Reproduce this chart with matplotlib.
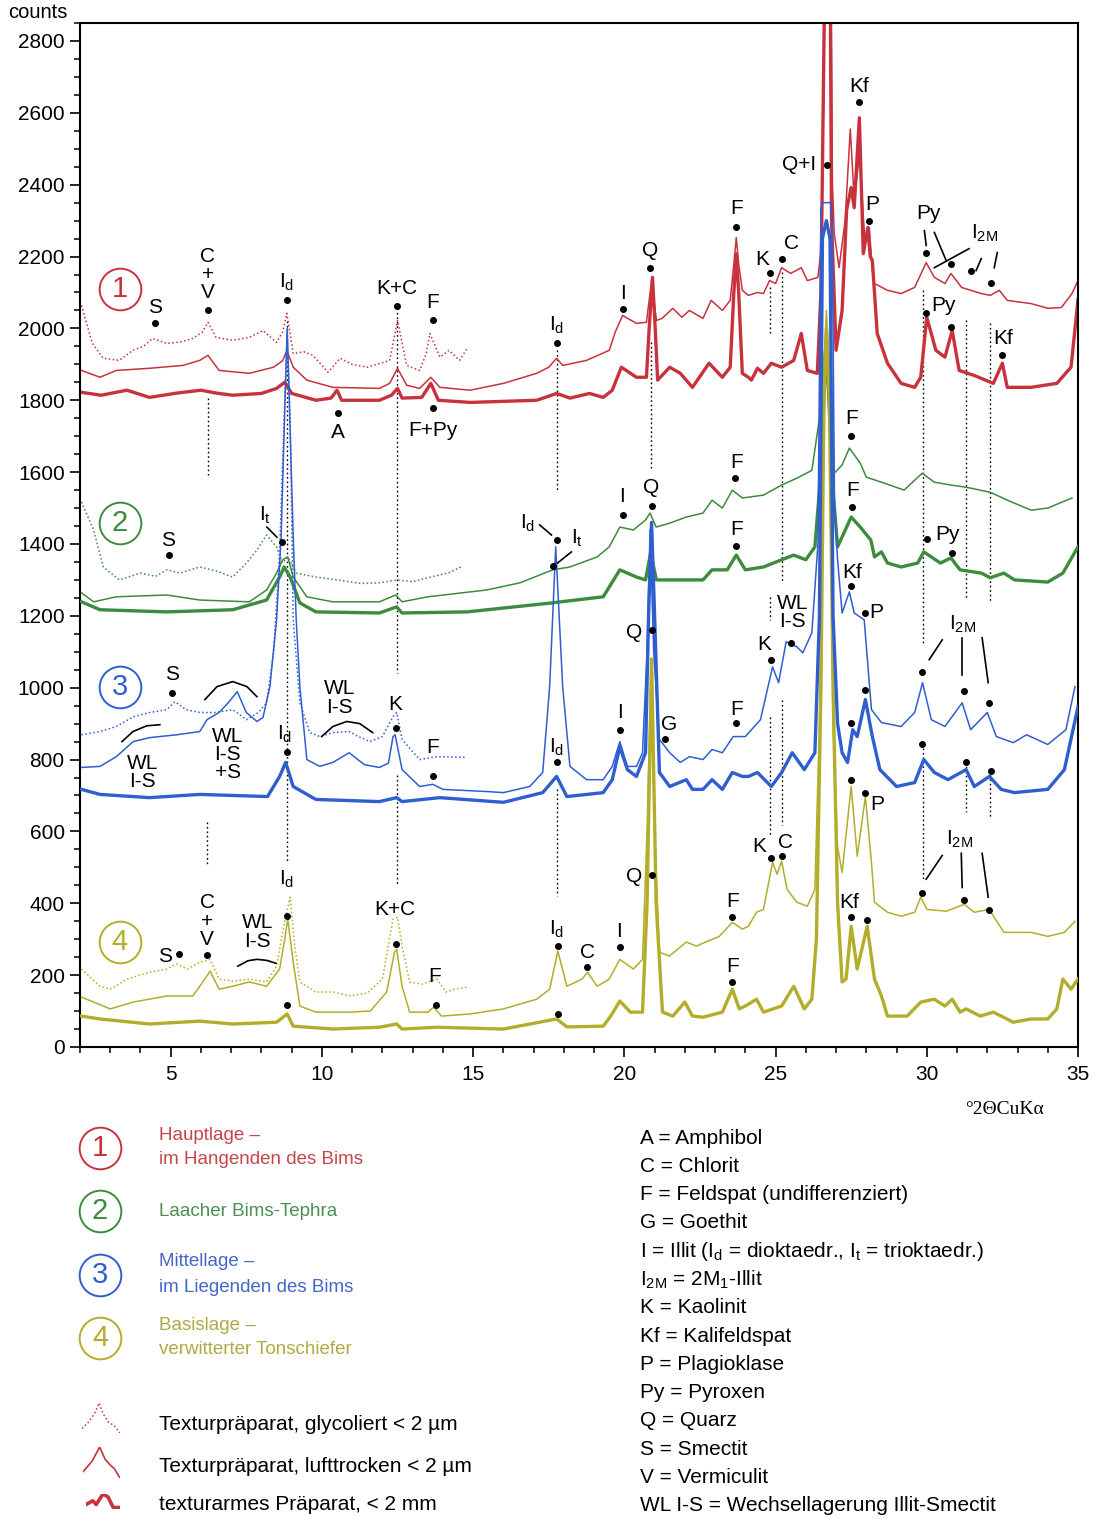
import matplotlib
matplotlib.use('Agg')
import matplotlib.pyplot as plt
from matplotlib.lines import Line2D
from matplotlib.ticker import MultipleLocator

plt.rcParams['font.family'] = ['Liberation Sans Narrow', 'Liberation Sans', 'DejaVu Sans']
plt.rcParams['mathtext.default'] = 'regular'

# ---------------- data (2theta, counts) ----------------
s1_gly = [(2.05,2064),(2.4,1960),(2.76,1917),(3.3,1911),(3.75,1939),(4.1,1950),(4.4,1972),(4.87,1958),(5.3,1962),(5.73,1972),(6.05,1990),(6.23,2017),(6.5,1975),(7.05,1967),(7.6,1975),(8.05,1994),(8.5,1961),(8.7,1990),(8.84,2042),(9.05,1930),(9.4,1935),(9.7,1925),(10.2,1878),(10.6,1917),(11.0,1900),(11.5,1892),(12.24,1911),(12.4,1980),(12.5,2022),(12.8,1897),(13.23,1883),(13.45,1930),(13.57,1986),(13.9,1920),(14.2,1939),(14.55,1911),(14.8,1944)]
s1_air = [(2.05,1883),(2.66,1864),(3.2,1883),(4.3,1889),(5.4,1897),(5.96,1911),(6.23,1925),(6.6,1883),(7.6,1875),(8.4,1892),(8.7,1910),(8.84,1939),(9.05,1892),(9.5,1856),(10.36,1836),(11.9,1833),(12.24,1847),(12.5,1889),(12.8,1842),(13.23,1833),(13.6,1864),(13.9,1836),(14.9,1828),(16.0,1847),(17.1,1875),(17.5,1892),(17.76,1917),(17.96,1897),(18.75,1911),(19.5,1939),(19.7,1990),(19.94,2036),(20.4,2014),(20.73,2017),(20.9,2133),(21.06,2022),(21.25,2028),(21.6,2056),(21.9,2031),(22.15,2050),(22.6,2028),(22.87,2078),(23.24,2050),(23.5,2078),(23.62,2180),(23.7,2253),(23.78,2180),(23.9,2106),(24.1,2092),(24.4,2100),(24.6,2097),(24.8,2133),(25.0,2125),(25.2,2169),(25.5,2153),(25.85,2169),(26.05,2133),(26.4,2142),(26.5,2217),(26.6,2700),(26.68,3400),(26.8,3400),(26.88,2400),(26.94,2264),(27.1,2169),(27.3,2300),(27.47,2555),(27.6,2360),(27.77,2480),(27.95,2250),(28.1,2281),(28.2,2160),(28.27,2125),(28.7,2106),(29.15,2097),(29.6,2114),(29.98,2183),(30.25,2142),(30.6,2125),(30.8,2153),(31.15,2114),(31.8,2097),(32.1,2092),(32.4,2106),(32.66,2078),(33.45,2069),(34.0,2056),(34.45,2058),(34.8,2097),(35.0,2133)]
s1_pow = [(2.05,1822),(2.7,1814),(3.55,1828),(4.3,1808),(5.2,1820),(6.0,1828),(6.5,1820),(7.05,1814),(8.0,1819),(8.5,1833),(8.77,1850),(9.0,1819),(9.8,1800),(10.3,1806),(10.5,1828),(10.65,1800),(11.9,1800),(12.3,1814),(12.5,1833),(12.65,1806),(13.3,1808),(13.6,1847),(13.85,1800),(14.9,1794),(17.1,1800),(17.76,1819),(18.2,1806),(18.85,1819),(19.3,1808),(19.6,1828),(19.9,1892),(20.4,1864),(20.73,1864),(20.82,2000),(20.93,2142),(21.02,2000),(21.1,1856),(21.5,1892),(21.85,1875),(22.25,1836),(22.8,1903),(23.24,1864),(23.5,1892),(23.62,2100),(23.7,2208),(23.78,2100),(23.9,1875),(24.1,1864),(24.2,1856),(24.4,1889),(24.6,1875),(24.86,1903),(25.2,1892),(25.6,1911),(25.85,1986),(26.05,1883),(26.38,1875),(26.5,2100),(26.6,2800),(26.68,3400),(26.78,3400),(26.85,2300),(27.0,1939),(27.2,2050),(27.35,2330),(27.5,2392),(27.6,2336),(27.77,2586),(27.9,2208),(28.05,2281),(28.13,2200),(28.2,2189),(28.36,1986),(28.7,1903),(29.15,1847),(29.6,1836),(29.8,1864),(30.0,2031),(30.3,1939),(30.6,1920),(30.84,1994),(31.07,1883),(31.57,1869),(32.2,1847),(32.5,1903),(32.66,1836),(33.45,1836),(34.3,1847),(34.77,1892),(35.0,2080)]

s2_gly = [(2.05,1517),(2.45,1439),(2.77,1336),(3.3,1300),(4.0,1319),(4.5,1310),(4.87,1328),(5.3,1319),(5.96,1336),(6.5,1325),(7.05,1308),(7.5,1347),(7.85,1383),(8.17,1425),(8.5,1392),(8.7,1347),(8.87,1364),(9.15,1319),(9.8,1308),(10.5,1300),(11.3,1290),(11.9,1292),(12.5,1300),(13.0,1295),(13.6,1308),(14.2,1320),(14.6,1336)]
s2_air = [(2.05,1264),(2.45,1239),(3.2,1253),(4.87,1258),(5.96,1244),(7.6,1239),(8.17,1272),(8.5,1319),(8.7,1356),(8.87,1364),(9.05,1308),(9.5,1253),(10.36,1239),(11.9,1239),(12.44,1258),(12.65,1239),(13.5,1253),(15.45,1272),(16.55,1292),(17.63,1328),(18.2,1336),(19.1,1364),(19.5,1392),(19.85,1447),(20.3,1439),(20.7,1467),(20.85,1486),(21.05,1447),(21.5,1458),(22.05,1475),(22.6,1486),(22.9,1522),(23.24,1500),(23.57,1550),(23.9,1528),(24.6,1536),(25.2,1564),(25.7,1583),(26.2,1605),(26.45,1750),(26.68,2000),(26.88,1750),(26.94,1597),(27.2,1620),(27.44,1667),(27.8,1625),(28.0,1586),(28.5,1572),(29.25,1550),(29.85,1597),(30.25,1572),(30.8,1564),(31.3,1558),(32.1,1544),(32.66,1522),(33.45,1494),(34.0,1500),(34.8,1528)]
s2_pow = [(2.05,1239),(2.66,1217),(4.87,1211),(7.05,1217),(8.17,1244),(8.6,1308),(8.75,1336),(8.95,1308),(9.27,1236),(9.8,1211),(11.9,1208),(12.47,1225),(12.65,1208),(14.8,1211),(17.6,1236),(19.3,1253),(19.85,1328),(20.4,1308),(20.7,1300),(20.87,1375),(21.06,1300),(22.6,1300),(22.9,1328),(23.4,1328),(23.7,1369),(24.0,1328),(24.6,1336),(25.2,1356),(25.6,1369),(26.0,1356),(26.3,1392),(26.45,1550),(26.68,1950),(26.9,1550),(27.05,1392),(27.5,1475),(27.8,1447),(28.15,1411),(28.27,1364),(28.5,1378),(28.7,1347),(29.15,1336),(29.7,1347),(29.9,1378),(30.45,1347),(30.8,1361),(31.1,1328),(31.8,1319),(32.1,1306),(32.55,1319),(32.9,1300),(34.0,1294),(34.5,1319),(35.0,1392)]

s3_gly = [(2.05,869),(2.66,878),(3.2,892),(3.76,919),(4.3,931),(4.87,939),(5.14,961),(5.5,939),(5.96,931),(6.5,931),(7.05,939),(7.5,911),(7.9,931),(8.17,958),(8.4,1097),(8.6,1375),(8.75,1750),(8.85,1980),(8.95,1750),(9.05,1189),(9.27,958),(9.6,875),(9.93,864),(10.36,875),(10.9,878),(11.2,864),(11.58,850),(12.0,864),(12.35,919),(12.47,931),(12.65,856),(13.23,800),(13.8,808),(14.8,806)]
s3_air = [(2.05,778),(2.66,781),(3.2,808),(3.76,850),(4.3,861),(5.2,869),(5.96,878),(6.2,911),(6.6,931),(6.9,958),(7.2,989),(7.5,931),(7.85,906),(8.05,917),(8.28,1003),(8.5,1189),(8.65,1419),(8.78,1800),(8.85,2000),(8.92,1800),(9.05,1419),(9.15,1189),(9.27,1003),(9.5,800),(9.93,781),(10.36,792),(10.9,819),(11.4,786),(11.9,778),(12.2,790),(12.35,864),(12.42,869),(12.65,772),(13.23,725),(13.67,731),(14.0,717),(15.45,711),(16.0,708),(16.87,725),(17.3,764),(17.53,1003),(17.73,1392),(17.96,1003),(18.2,781),(18.75,744),(19.3,744),(19.6,781),(19.85,850),(20.1,781),(20.4,781),(20.6,819),(20.75,1100),(20.85,1440),(20.97,1100),(21.16,856),(21.5,819),(21.85,792),(22.15,808),(22.6,800),(22.9,828),(23.24,819),(23.6,864),(24.0,864),(24.5,911),(24.9,1058),(25.1,1014),(25.35,1128),(25.7,1114),(25.9,1097),(26.2,1153),(26.4,1400),(26.5,2330),(26.55,2350),(26.82,2350),(26.87,2300),(26.95,1500),(27.05,1356),(27.2,1208),(27.44,1267),(27.6,1208),(27.93,1189),(28.17,939),(28.5,903),(29.15,892),(29.6,931),(29.86,1014),(30.15,911),(30.6,892),(31.17,958),(31.45,883),(32.0,931),(32.3,864),(32.86,847),(33.3,869),(34.0,842),(34.6,883),(34.9,1003)]
s3_pow = [(2.05,717),(2.66,703),(4.3,694),(5.96,703),(8.2,697),(8.6,753),(8.8,792),(9.05,725),(9.8,689),(11.9,683),(12.47,694),(12.65,683),(13.9,694),(16.0,681),(17.3,708),(17.76,753),(18.1,697),(19.3,708),(19.6,744),(19.85,836),(20.1,772),(20.4,753),(20.7,819),(20.8,1200),(20.9,1460),(21.0,1200),(21.16,764),(21.5,725),(22.05,744),(22.25,717),(22.6,717),(22.9,744),(23.24,717),(23.57,764),(23.9,753),(24.1,753),(24.4,764),(24.86,725),(25.2,764),(25.55,819),(25.95,772),(26.3,819),(26.45,1200),(26.55,2250),(26.68,2300),(26.8,2250),(26.9,1200),(27.05,900),(27.2,819),(27.38,792),(27.55,883),(27.7,864),(27.97,967),(28.2,864),(28.45,772),(29.0,725),(29.6,736),(29.9,800),(30.25,764),(30.7,744),(31.3,772),(31.57,725),(32.07,753),(32.46,717),(32.9,708),(34.0,717),(34.55,772),(35.0,947)]

s4_gly = [(2.05,217),(2.66,169),(3.0,161),(3.55,189),(4.3,208),(4.87,217),(5.2,231),(5.55,217),(5.96,236),(6.3,244),(6.6,189),(7.05,183),(7.6,189),(8.17,181),(8.5,225),(8.8,364),(8.95,417),(9.1,281),(9.27,181),(9.8,153),(10.36,153),(10.9,142),(11.5,150),(12.0,189),(12.35,356),(12.5,361),(12.65,281),(12.9,181),(13.3,175),(13.8,189),(14.1,153),(14.4,161),(14.8,167)]
s4_air = [(2.05,139),(3.0,106),(3.76,125),(4.87,142),(5.73,142),(6.06,181),(6.3,211),(6.6,161),(7.05,169),(7.6,181),(8.17,169),(8.6,217),(8.77,300),(8.87,356),(9.05,236),(9.27,114),(9.8,97),(10.9,97),(11.6,100),(12.14,153),(12.4,264),(12.47,272),(12.65,169),(12.9,97),(13.5,97),(13.7,111),(13.95,86),(14.9,92),(16.0,106),(17.1,133),(17.53,161),(17.8,267),(18.1,169),(18.6,189),(18.78,208),(19.1,169),(19.5,189),(19.85,244),(20.3,217),(20.6,244),(20.75,600),(20.88,1050),(21.0,600),(21.16,264),(21.49,253),(22.05,292),(22.38,281),(23.14,308),(23.57,347),(23.9,328),(24.1,336),(24.37,375),(24.6,383),(24.9,514),(25.05,481),(25.2,517),(25.38,439),(25.7,403),(26.05,392),(26.3,439),(26.45,900),(26.6,1900),(26.68,2050),(26.78,1900),(26.9,900),(27.05,558),(27.2,486),(27.5,725),(27.7,531),(27.97,697),(28.17,514),(28.27,403),(28.7,375),(29.15,364),(29.6,375),(29.8,417),(30.0,383),(30.65,378),(31.24,397),(31.57,375),(32.06,383),(32.55,319),(33.45,319),(34.0,308),(34.55,319),(34.9,350)]
s4_pow = [(2.05,86),(2.66,78),(4.3,64),(5.96,72),(7.05,64),(8.5,69),(8.85,92),(9.05,58),(10.36,50),(11.9,55),(12.47,64),(12.65,50),(13.8,55),(16.0,50),(17.76,78),(18.1,56),(19.3,58),(19.55,86),(19.85,128),(20.2,97),(20.6,97),(20.75,400),(20.9,1080),(21.05,400),(21.26,97),(21.6,86),(22.0,125),(22.25,86),(22.6,83),(23.24,97),(23.57,161),(23.8,106),(24.0,114),(24.37,133),(24.6,97),(25.2,114),(25.6,169),(25.95,106),(26.2,133),(26.35,300),(26.5,1000),(26.6,1800),(26.68,2000),(26.78,1800),(26.9,1000),(27.05,400),(27.2,181),(27.33,189),(27.5,336),(27.7,217),(28.03,336),(28.27,189),(28.5,142),(28.7,86),(29.35,86),(29.8,125),(30.25,133),(30.6,114),(30.84,133),(31.1,97),(31.3,106),(31.77,86),(32.2,97),(32.86,69),(33.45,78),(34.0,78),(34.3,106),(34.5,189),(34.77,161),(35.0,189)]

sample_colors = ['#c8323c', '#3d8b3d', '#2f5ed0', '#b3ad2a']
legend_text_colors = ['#c4464c', '#4c8f4e', '#4466c8', '#aeab45']
sample_names = [['Hauptlage –', 'im Hangenden des Bims'], ['Laacher Bims-Tephra'],
                ['Mittellage –', 'im Liegenden des Bims'], ['Basislage –', 'verwitterter Tonschiefer']]
prep_names = ['Texturpräparat, glycoliert < 2 µm', 'Texturpräparat, lufttrocken < 2 µm',
              'texturarmes Präparat, < 2 mm']
mineral_key = ['A = Amphibol', 'C = Chlorit', 'F = Feldspat (undifferenziert)', 'G = Goethit',
               r'I = Illit (I$_{d}$ = dioktaedr., I$_{t}$ = trioktaedr.)', r'I$_{2M}$ = 2M$_{1}$-Illit',
               'K = Kaolinit', 'Kf = Kalifeldspat', 'P = Plagioklase', 'Py = Pyroxen', 'Q = Quarz',
               'S = Smectit', 'V = Vermiculit', 'WL I-S = Wechsellagerung Illit-Smectit']
xticks = [5, 10, 15, 20, 25, 30, 35]
yticks = list(range(0, 2801, 200))

# peak labels (text, 2theta, counts)
ID = r'I$_{d}$'
IT = r'I$_{t}$'
I2M = r'I$_{2M}$'
labels = [
    ('S', 4.48, 2058), ('C\n+\nV', 6.23, 2150), (ID, 8.84, 2128),
    ('K+C', 12.47, 2111), ('F', 13.66, 2072), ('A', 10.52, 1711), ('F+Py', 13.66, 1717),
    (ID, 17.76, 2008), ('I', 19.94, 2097), ('Q', 20.86, 2217), ('F', 23.70, 2333), ('K', 24.56, 2192),
    ('C', 25.52, 2236), ('Q+I', 25.79, 2455), ('Kf', 27.77, 2672), ('P', 28.20, 2344),
    ('Py', 30.05, 2319), (I2M, 31.90, 2264), ('Py', 30.54, 2064), ('Kf', 32.53, 1972),
    ('S', 4.91, 1411), (IT, 8.11, 1481), (ID, 16.80, 1458), (IT, 18.45, 1417), ('I', 19.91, 1531),
    ('Q', 20.90, 1556), ('F', 23.70, 1628), ('F', 23.70, 1439), ('F', 27.50, 1750), ('F', 27.54, 1550),
    ('Py', 30.68, 1425),
    ('S', 5.04, 1036), ('WL\nI-S', 4.08, 765), ('WL\nI-S\n+S', 6.89, 814),
    ('WL\nI-S', 10.59, 971), ('K', 12.41, 953), ('F', 13.66, 833),
    (ID, 17.76, 833), (ID, 8.77, 869), ('I', 19.87, 931), ('Q', 20.33, 1153), ('G', 21.49, 897),
    ('F', 23.70, 939), ('K', 24.63, 1119), ('WL\nI-S', 25.55, 1210), ('Kf', 27.54, 1322),
    ('P', 28.33, 1208), (I2M, 31.17, 1175),
    ('S', 4.81, 253), ('C\n+\nV', 6.20, 350), ('WL\nI-S', 7.88, 320),
    (ID, 8.84, 467), ('K+C', 12.41, 383), ('F', 13.73, 197), (ID, 17.76, 328),
    ('C', 18.78, 264), ('I', 19.81, 322), ('Q', 20.33, 475), ('F', 23.57, 406), ('F', 23.57, 225),
    ('K', 24.46, 558), ('C', 25.32, 569), ('Kf', 27.44, 403), ('P', 28.36, 675), (I2M, 31.07, 578),
]
dots = [(4.48,2014),(6.23,2050),(8.84,2078),(12.47,2061),(13.66,2022),(10.52,1764),(13.66,1778),
        (17.76,1958),(19.94,2055),(20.86,2167),(23.70,2283),(24.83,2155),(25.22,2194),(26.71,2455),
        (27.77,2630),(28.10,2300),(29.98,2211),(30.81,2178),(31.47,2161),(32.13,2125),(29.98,2044),
        (30.81,2003),(32.49,1925),
        (4.94,1369),(8.67,1406),(17.76,1411),(17.63,1339),(19.94,1481),(20.90,1506),(23.67,1583),
        (23.70,1394),(27.50,1700),(27.54,1503),(30.01,1414),(30.84,1375),
        (5.04,986),(12.44,889),(13.66,753),(17.76,794),(8.84,822),(19.87,881),(20.90,1161),(21.36,858),
        (23.70,903),(24.86,1078),(25.52,1125),(27.50,1283),(27.97,1208),(27.50,903),(27.97,994),
        (29.85,1044),(31.24,992),(32.06,958),(29.85,842),(31.30,794),(32.13,767),
        (5.27,258),(6.20,256),(8.84,364),(8.84,117),(12.44,286),(13.76,117),(17.79,281),(17.79,92),
        (18.78,222),(19.84,278),(20.90,478),(23.57,361),(23.57,181),(24.86,525),(25.22,531),
        (27.50,361),(28.03,353),(27.97,708),(27.50,744),(29.85,428),(31.24,408),(32.06,381)]
leaders = [((29.92,2272),(29.98,2231)), ((30.25,2267),(30.64,2189)), ((30.25,2169),(31.40,2222)),
           ((31.63,2161),(31.80,2194)), ((32.23,2169),(32.33,2211)),
           ((8.18,1447),(8.51,1419)), ((17.20,1453),(17.59,1425)), ((18.25,1378),(17.79,1347)),
           ((30.08,1078),(30.51,1133)), ((31.17,1139),(31.17,1036)), ((31.83,1139),(32.03,1014)),
           ((29.98,467),(30.51,533)), ((31.14,539),(31.17,444)), ((31.83,539),(32.03,417))]
arcs = [[(3.39,850),(3.75,878),(4.21,894),(4.64,897)],
        [(6.13,967),(6.53,1003),(7.05,1017),(7.52,1003),(7.85,975)],
        [(9.99,864),(10.36,892),(10.82,906),(11.25,900),(11.68,875)],
        [(7.22,225),(7.55,240),(7.85,244),(8.18,241),(8.48,233)]]
ref_lines = [(6.23,1805,1593),(6.20,625,503),(8.84,2020,514),(12.47,2058,1042),(12.47,758,447),
             (17.76,1939,1544),(17.76,717,419),(20.88,1961,1611),(25.22,2156,1294),(25.22,967,619),
             (24.83,2114,1986),(24.83,1253,1189),(24.83,919,586),(29.88,2106,1125),(29.88,833,467),
             (31.30,2022,1244),(31.30,792,653),(32.10,2014,1236),(32.10,772,639)]
circles = [('1', 3.32, 2111), ('2', 3.32, 1458), ('3', 3.32, 1003), ('4', 3.32, 292)]

glyph_gly = [(0,0.15),(0.2,0.4),(0.35,0.7),(0.45,1.0),(0.55,0.65),(0.7,0.35),(0.85,0.25),(1.0,0.0)]
glyph_air = [(0,0.2),(0.25,0.55),(0.45,1.0),(0.6,0.6),(0.75,0.4),(0.85,0.3),(1.0,0.0)]
glyph_pow = [(0,0.3),(0.2,0.55),(0.3,0.3),(0.5,1.0),(0.65,0.8),(0.8,0.1),(1.0,0.1)]

# ---------------- figure ----------------
W, H = 1095, 1519
fig = plt.figure(figsize=(W/100, H/100), dpi=100)
def fx(px): return px / W
def fy(py): return 1 - py / H

ax = fig.add_axes([fx(80), fy(1047), fx(1078) - fx(80), fy(23) - fy(1047)])
ax.set_xlim(2, 35)
ax.set_ylim(0, 2850)

for z in ref_lines:
    ax.plot([z[0], z[0]], [z[1], z[2]], color='black', lw=1.0, ls=(0, (1.2, 2)), zorder=1)

series = [(s1_gly, s1_air, s1_pow), (s2_gly, s2_air, s2_pow), (s3_gly, s3_air, s3_pow), (s4_gly, s4_air, s4_pow)]
zbase = [2, 3, 5, 4]
for (gly, air, pw), col, zb in zip(series, sample_colors, zbase):
    x, y = zip(*pw)
    ax.plot(x, y, color=col, lw=2.4, zorder=zb, solid_joinstyle='round')
    x, y = zip(*air)
    ax.plot(x, y, color=col, lw=1.1, zorder=zb + 0.1)
    x, y = zip(*gly)
    ax.plot(x, y, color=col, lw=1.1, ls=(0, (1, 1.6)), zorder=zb + 0.2)

for t, x, y in labels:
    ax.text(x, y, t, ha='center', va='center', fontsize=15, zorder=10, linespacing=0.95)
dx, dy = zip(*dots)
ax.plot(dx, dy, 'o', color='black', ms=4, zorder=11, clip_on=False)
for (a, b) in leaders:
    ax.plot([a[0], b[0]], [a[1], b[1]], color='black', lw=1.2, zorder=10)
for arc in arcs:
    x, y = zip(*arc)
    ax.plot(x, y, color='black', lw=1.2, zorder=10)
for (num, x, y), col in zip(circles, sample_colors):
    ax.plot([x], [y], 'o', ms=30, mfc='white', mec=col, mew=1.4, zorder=10)
    ax.text(x, y, num, color=col, fontsize=21, ha='center', va='center', zorder=11)

ax.set_xticks(xticks)
ax.set_yticks(yticks)
ax.xaxis.set_minor_locator(MultipleLocator(1))
ax.yaxis.set_minor_locator(MultipleLocator(50))
ax.tick_params(axis='both', which='major', length=7, width=1.2, labelsize=15, direction='out')
ax.tick_params(axis='both', which='minor', length=4.5, width=1.1, direction='out')
ax.tick_params(axis='y', which='major', pad=4)
ax.tick_params(axis='x', which='major', pad=6)
ax.tick_params(top=False, right=False, which='both')
for s in ax.spines.values():
    s.set_linewidth(1.5)

fig.text(fx(8), fy(13), 'counts', fontsize=14.5, ha='left', va='center')
fig.text(fx(1044), fy(1110), '°2ΘCuKα', fontsize=14, ha='right', va='center',
         family=['Liberation Serif', 'DejaVu Serif'])

# ---------------- legend ----------------
circle_py = [1148, 1211, 1275, 1338]
for i, (py, col, tcol, names) in enumerate(zip(circle_py, sample_colors, legend_text_colors, sample_names)):
    fig.add_artist(Line2D([fx(100)], [fy(py)], marker='o', ms=30, mfc='none', mec=col, mew=1.4))
    fig.text(fx(100), fy(py), str(i + 1), color=col, fontsize=21, ha='center', va='center')
    if len(names) == 2:
        fig.text(fx(159), fy(py - 13), names[0], color=tcol, fontsize=13.5, ha='left', va='center')
        fig.text(fx(159), fy(py + 12), names[1], color=tcol, fontsize=13.5, ha='left', va='center')
    else:
        fig.text(fx(159), fy(py + 1), names[0], color=tcol, fontsize=13.5, ha='left', va='center')

glyph_boxes = [(82, 1403, 38, 30), (83, 1447, 37, 31), (86, 1494, 34, 15)]
glyph_styles = [dict(lw=1.1, ls=(0, (1, 1.6))), dict(lw=1.2), dict(lw=2.6)]
for g, box, sty, name, py in zip([glyph_gly, glyph_air, glyph_pow], glyph_boxes, glyph_styles,
                                 prep_names, [1425, 1466, 1505]):
    gx = fig.add_axes([fx(box[0]), fy(box[1] + box[3]), box[2] / W, box[3] / H])
    gx.axis('off')
    x, y = zip(*g)
    gx.plot(x, y, color=sample_colors[0], **sty)
    gx.set_xlim(0, 1)
    gx.set_ylim(0, 1)
    fig.text(fx(159), fy(py), name, fontsize=15, ha='left', va='center')

for i, t in enumerate(mineral_key):
    fig.text(fx(640), fy(1138 + i * 28.3), t, fontsize=15, ha='left', va='center')

fig.savefig('out.png', dpi=100)
